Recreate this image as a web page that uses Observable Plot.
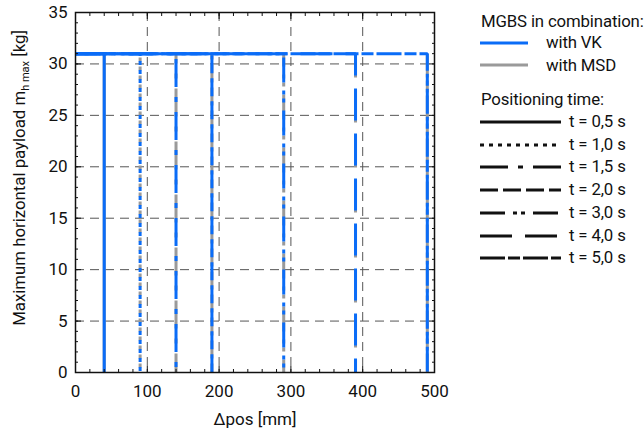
<!DOCTYPE html>
<html><head><meta charset="utf-8">
<script src="https://cdn.jsdelivr.net/npm/d3@7"></script>
<script src="https://cdn.jsdelivr.net/npm/@observablehq/plot@0.6"></script>
<style>
body{margin:0;font-family:Roboto,sans-serif;background:#fff;}
#wrap{position:relative;width:644px;height:437px;}
.leg{position:absolute;font-size:16.8px;color:#111;white-space:nowrap;line-height:1;font-family:Roboto,sans-serif;letter-spacing:-0.15px;}
.sw{position:absolute;}
</style>
</head><body><div id="wrap"></div>
<script>
// data
const times = ["0,5", "1,0", "1,5", "2,0", "3,0", "4,0", "5,0"];
const dposVK = [40, 90, 140, 190, 290, 390, 490];
const payloadVK = [31, 31, 31, 31, 31, 31, 31];
const dposMSD = [40, 90, 140, 190, 290, 390, 490];
const payloadMSD = [31, 31, 31, 31, 31, 31, 31];
const dashes = ["none", "4,5", "28,10,5,10", "18,5", "25,8,4,4,4,8", "32,13", "25,3,12,3"];
const msdOffsets = [0, 4, 9, 9, 12, 20, 6];
const xTicks = [0, 100, 200, 300, 400, 500];
const yTicks = [0, 5, 10, 15, 20, 25, 30, 35];
const xGrid = [100, 200, 300, 400];
const yGrid = [5, 10, 15, 20, 25, 30];
const xMinor = [0,20,40,60,80,100,120,140,160,180,200,220,240,260,280,300,320,340,360,380,400,420,440,460,480,500];
const yMinor = Array.from({length: 36}, (_, i) => i);

const blue = "#0a6cf7", gray = "#9a9a9a";

const vkPaths = dposVK.map((d, i) => [{x: 0, y: payloadVK[i]}, {x: d, y: payloadVK[i]}, {x: d, y: 0}]);
const msdPaths = dposMSD.map((d, i) => [{x: d, y: 0}, {x: d, y: payloadMSD[i]}]);

const tk = (o) => ({tickFormat: () => "", stroke: "#111", label: null, ...o});
const marks = [
  Plot.gridX(xGrid, {stroke: "#555", strokeOpacity: 1, strokeDasharray: "9,6"}),
  Plot.gridY(yGrid, {stroke: "#555", strokeOpacity: 1, strokeDasharray: "9,6"}),
  ...msdPaths.map((p, i) => Plot.line(p, {x: "x", y: "y", stroke: gray, strokeWidth: 3, strokeDasharray: dashes[i], strokeDashoffset: msdOffsets[i], strokeLinecap: "butt"})),
  ...vkPaths.map((p, i) => Plot.line(p, {x: "x", y: "y", stroke: blue, strokeWidth: 3, strokeDasharray: dashes[i], strokeLinecap: "butt", strokeLinejoin: "miter"})),
  Plot.frame({stroke: "#111", strokeWidth: 1.5}),
  Plot.axisX(xMinor, tk({anchor: "bottom", tickSize: -3})),
  Plot.axisX(xTicks, tk({anchor: "bottom", tickSize: -6})),
  Plot.axisX(xMinor, tk({anchor: "top", tickSize: -3})),
  Plot.axisX(xTicks, tk({anchor: "top", tickSize: -6})),
  Plot.axisY(yMinor, tk({anchor: "left", tickSize: -3})),
  Plot.axisY(yTicks, tk({anchor: "left", tickSize: -6})),
  Plot.axisY(yMinor, tk({anchor: "right", tickSize: -3})),
  Plot.axisY(yTicks, tk({anchor: "right", tickSize: -6})),
  Plot.axisX(xTicks, {anchor: "bottom", tickSize: 0, tickPadding: 12, fill: "#111", label: null}),
  Plot.axisY(yTicks, {anchor: "left", tickSize: 0, tickPadding: 8, fill: "#111", label: null}),
  Plot.text(["Δpos [mm]"], {frameAnchor: "bottom", dy: 52, fill: "#111", fontSize: 17})
];

const chart = Plot.plot({
  width: 644, height: 437,
  marginLeft: 75, marginRight: 210, marginTop: 12, marginBottom: 65,
  x: {domain: [0, 500], label: null},
  y: {domain: [0, 35], label: null},
  style: {fontFamily: "Roboto, sans-serif", fontSize: "17px", color: "#111", background: "#fff"},
  marks
});
const wrap = document.getElementById("wrap");
wrap.appendChild(chart);

// y label with subscript
const svg = d3.select(chart);
const yl = svg.append("text")
  .attr("transform", "translate(25,178) rotate(-90)")
  .attr("text-anchor", "middle")
  .attr("fill", "#111")
  .style("font-size", "16.8px")
  .style("font-family", "Roboto, sans-serif");
yl.append("tspan").text("Maximum horizontal payload m");
yl.append("tspan").attr("dy", 4).style("font-size", "11px").text("h max");
yl.append("tspan").attr("dy", -4).text(" [kg]");

// legend (HTML overlay)
function addText(txt, x, yc) {
  const d = document.createElement("div");
  d.className = "leg"; d.textContent = txt;
  d.style.left = x + "px"; d.style.top = (yc - 9) + "px";
  wrap.appendChild(d);
}
function addSwatch(x, yc, w, color, dash) {
  const s = d3.create("svg").attr("class", "sw").attr("width", w).attr("height", 6)
    .style("left", x + "px").style("top", (yc - 3) + "px");
  s.append("line").attr("x1", 0).attr("x2", w).attr("y1", 3).attr("y2", 3)
    .attr("stroke", color).attr("stroke-width", 3).attr("stroke-dasharray", dash);
  wrap.appendChild(s.node());
}
addText("MGBS in combination:", 481, 22);
addSwatch(480, 43, 48, blue, "none"); addText("with VK", 546, 43);
addSwatch(480, 65, 48, gray, "none"); addText("with MSD", 546, 66);
addText("Positioning time:", 481, 100);
times.forEach((t, i) => {
  const yc = 122 + i * 22.7;
  addSwatch(480, yc, 81, "#111", dashes[i]);
  addText("t = " + t + " s", 569, yc);
});
</script>
</body></html>
